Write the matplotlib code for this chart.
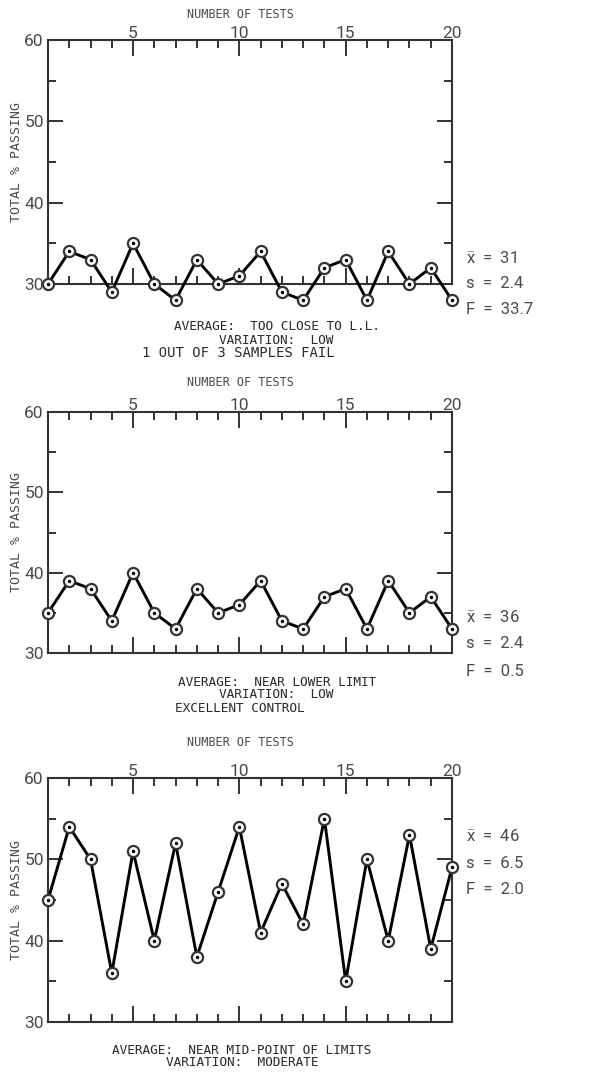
import matplotlib
matplotlib.use("Agg")
import matplotlib.pyplot as plt
from matplotlib.ticker import FixedLocator

tests = list(range(1, 21))
# total % passing per test
pass1 = [30, 34, 33, 29, 35, 30, 28, 33, 30, 31, 34, 29, 28, 32, 33, 28, 34, 30, 32, 28]
pass2 = [35, 39, 38, 34, 40, 35, 33, 38, 35, 36, 39, 34, 33, 37, 38, 33, 39, 35, 37, 33]
pass3 = [45, 54, 50, 36, 51, 40, 52, 38, 46, 54, 41, 47, 42, 55, 35, 50, 40, 53, 39, 49]

stats1 = ["31", "2.4", "33.7"]
stats2 = ["36", "2.4", "0.5"]
stats3 = ["46", "6.5", "2.0"]

cap1 = ["AVERAGE:  TOO CLOSE TO L.L.", "VARIATION:  LOW", "1 OUT OF 3 SAMPLES FAIL"]
cap2 = ["AVERAGE:  NEAR LOWER LIMIT", "VARIATION:  LOW", "EXCELLENT CONTROL"]
cap3 = ["AVERAGE:  NEAR MID-POINT OF LIMITS", "VARIATION:  MODERATE"]

plt.rcParams["mathtext.fontset"] = "custom"
plt.rcParams["mathtext.rm"] = "Roboto"

W, H = 601, 1072
numfont = ["Roboto", "DejaVu Sans"]
monofont = ["DejaVu Sans Mono"]
ink = "#333333"
grey = "#4a4a4a"

fig = plt.figure(figsize=(W / 100, H / 100), dpi=100)


def px(x, y):
    # pixel -> figure fraction
    return x / W, 1 - y / H


def panel(top, bottom, ys, stats, stat_y, caps, cap_pos, title_y):
    l, b = px(48, bottom)
    _, t = px(48, top)
    ax = fig.add_axes([l, b, (452 - 48) / W, t - b])
    ax.plot(tests, ys, color="black", lw=2.1, clip_on=False, zorder=3)
    ax.plot(tests, ys, "o", ms=8, mfc="white", mec=ink, mew=1.6, clip_on=False, zorder=4)
    ax.plot(tests, ys, ".", ms=3, color="black", clip_on=False, zorder=5)
    ax.set_xlim(1, 20)
    ax.set_ylim(30, 60)

    ax.xaxis.set_major_locator(FixedLocator([5, 10, 15, 20]))
    ax.xaxis.set_minor_locator(FixedLocator([i for i in tests if i % 5 != 0]))
    ax.yaxis.set_major_locator(FixedLocator([30, 40, 50, 60]))
    ax.yaxis.set_minor_locator(FixedLocator([35, 45, 55]))
    ax.tick_params(axis="x", which="both", direction="in", top=True, bottom=True,
                   labeltop=True, labelbottom=False, color=ink, width=1.4, pad=-1)
    ax.tick_params(axis="y", which="both", direction="in", left=True, right=True,
                   labelleft=True, labelright=False, color=ink, width=1.4, pad=3)
    ax.tick_params(axis="x", which="major", length=11.5)
    ax.tick_params(axis="x", which="minor", length=6)
    ax.tick_params(axis="y", which="major", length=10.5)
    ax.tick_params(axis="y", which="minor", length=5.5)
    for lab in ax.get_xticklabels() + ax.get_yticklabels():
        lab.set_family(numfont)
        lab.set_fontsize(12.5)
        lab.set_color(grey)
    for sp in ax.spines.values():
        sp.set_color(ink)
        sp.set_linewidth(1.5)

    # stats to the right of the panel
    names = [r"$\bar{\mathrm{x}}$", "s", "F"]
    for name, val, yy in zip(names, stats, stat_y):
        fx, fy = px(466, yy)
        fig.text(fx, fy, name + "  =  " + val, family=numfont,
                 fontsize=12, color=grey, va="center", ha="left")

    fx, fy = px(240, title_y)
    fig.text(fx, fy, "NUMBER OF TESTS", family=monofont, fontsize=8.5,
             color=grey, ha="center", va="center")
    fx, fy = px(17, (top + bottom) / 2)
    fig.text(fx, fy, "TOTAL % PASSING", family=monofont, fontsize=9.5,
             color=grey, ha="center", va="center", rotation=90)

    for txt, (cx, cy) in zip(caps, cap_pos):
        fx, fy = px(cx, cy)
        size = 10 if txt.startswith("1 OUT") else 9.2
        fig.text(fx, fy, txt, family=monofont, fontsize=size, color="#2a2a2a",
                 ha="center", va="center")
    return ax


panel(40, 284, pass1, stats1, [258, 284, 310], cap1,
      [(277, 326), (276, 340), (238, 353)], 15)
panel(412, 653, pass2, stats2, [617, 643, 671], cap2,
      [(277, 682), (276, 695), (240, 708)], 383)
panel(778, 1022, pass3, stats3, [836, 863, 890], cap3,
      [(242, 1050), (242, 1063)], 743)

fig.savefig("out.png", dpi=100)
